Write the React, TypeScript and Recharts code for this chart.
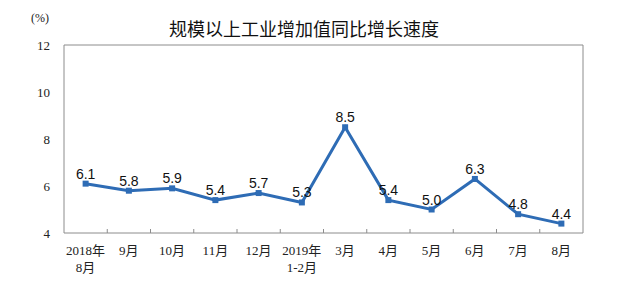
import { LabelList, Line, LineChart, ReferenceArea, ReferenceLine, XAxis, YAxis } from "recharts";

const months = ["2018年\n8月", "9月", "10月", "11月", "12月", "2019年\n1-2月", "3月", "4月", "5月", "6月", "7月", "8月"];
const growth = [6.1, 5.8, 5.9, 5.4, 5.7, 5.3, 8.5, 5.4, 5.0, 6.3, 4.8, 4.4];
const yTicks = [4, 6, 8, 10, 12];
const boundaryTicks = [1, 2, 3, 4, 5, 6, 7, 8, 9, 10, 11];

const data = months.map((month, i) => ({ pos: i + 0.5, month, value: growth[i] }));
const xTicks = data.map((d) => d.pos);

const axisColor = "#8c8c8c";
const lineColor = "#2e6cb5";
const serif = "'Liberation Serif', 'Noto Sans CJK SC', serif";

function MonthTick({ x, y, payload }: any) {
  const lines = months[Math.floor(payload.value)].split("\n");
  return (
    <text x={x} y={y + 14} textAnchor="middle" fontFamily={serif} fontSize={13} fill="#222">
      {lines.map((line, i) => (
        <tspan key={i} x={x} dy={i === 0 ? 0 : 17}>
          {line}
        </tspan>
      ))}
    </text>
  );
}

function Marker({ cx, cy }: any) {
  return <rect x={cx - 3} y={cy - 3} width={6} height={6} fill={lineColor} />;
}

export default function App() {
  return (
    <div style={{ position: "absolute", left: 0, top: 0, width: 634, height: 290, background: "#fff" }}>
      <svg width={634} height={290} style={{ position: "absolute", left: 0, top: 0 }}>
        <text x={304} y={36} textAnchor="middle" fontFamily="'Noto Sans CJK SC', sans-serif" fontSize={18} fill="#111">
          规模以上工业增加值同比增长速度
        </text>
        <text x={40} y={22} textAnchor="middle" fontFamily={serif} fontSize={12} fill="#222">
          (%)
        </text>
      </svg>
      <LineChart
        width={634}
        height={290}
        data={data}
        margin={{ top: 45, right: 51, bottom: 27, left: 0 }}
        style={{ position: "absolute", left: 0, top: 0 }}
      >
        <XAxis
          dataKey="pos"
          type="number"
          domain={[0, 12]}
          ticks={xTicks}
          interval={0}
          axisLine={false}
          tickLine={false}
          height={30}
          tick={<MonthTick />}
        />
        <YAxis
          domain={[4, 12]}
          ticks={yTicks}
          width={64}
          axisLine={false}
          tickLine={false}
          tickMargin={8}
          tick={{ fontFamily: serif, fontSize: 13, fill: "#222" }}
        />
        <ReferenceArea x1={0} x2={12} y1={4} y2={12} fill="none" stroke={axisColor} strokeWidth={1} />
        {boundaryTicks.map((b) => (
          <ReferenceLine
            key={b}
            segment={[
              { x: b, y: 4 },
              { x: b, y: 4.17 },
            ]}
            stroke={axisColor}
          />
        ))}
        <Line
          dataKey="value"
          stroke={lineColor}
          strokeWidth={3}
          dot={<Marker />}
          activeDot={false}
          isAnimationActive={false}
        >
          <LabelList
            dataKey="value"
            position="top"
            offset={5}
            formatter={(v: any) => Number(v).toFixed(1)}
            style={{ fontFamily: "'Liberation Sans', Arial, sans-serif", fontSize: 14, fill: "#111" }}
          />
        </Line>
      </LineChart>
    </div>
  );
}
